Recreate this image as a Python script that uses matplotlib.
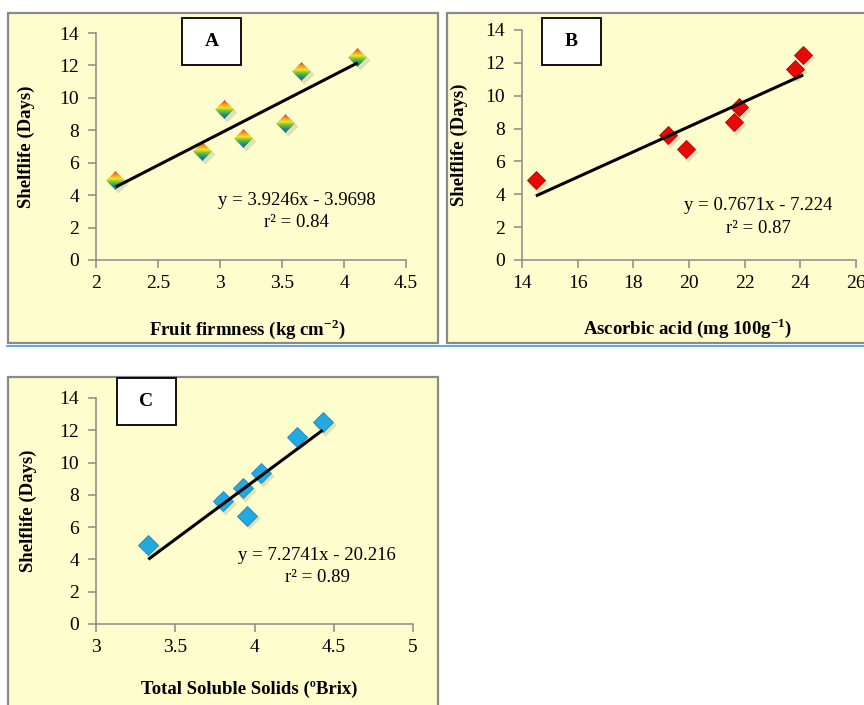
import numpy as np
import matplotlib
matplotlib.use("Agg")
import matplotlib.pyplot as plt
from matplotlib.patches import Rectangle
from matplotlib.lines import Line2D
from matplotlib.offsetbox import OffsetImage, AnnotationBbox
from matplotlib.transforms import offset_copy

plt.rcParams['font.family'] = ['Liberation Serif', 'DejaVu Serif']
plt.rcParams['mathtext.fontset'] = 'custom'
plt.rcParams['mathtext.rm'] = 'Liberation Serif'
plt.rcParams['mathtext.bf'] = 'Liberation Serif:bold'

# Panel A: fruit firmness vs shelf life
firmness = [2.16, 2.86, 3.04, 3.19, 3.53, 3.66, 4.11]
shelf_a = [4.9, 6.7, 9.3, 7.5, 8.4, 11.6, 12.5]
slope_a, icpt_a = 3.9246, -3.9698

# Panel B: ascorbic acid vs shelf life
ascorbic = [14.5, 19.25, 19.9, 21.6, 21.8, 23.8, 24.1]
shelf_b = [4.85, 7.6, 6.75, 8.4, 9.3, 11.6, 12.5]
slope_b, icpt_b = 0.7671, -7.224

# Panel C: TSS vs shelf life
tss = [3.33, 3.80, 3.93, 3.95, 4.04, 4.27, 4.43]
shelf_c = [4.9, 7.6, 8.4, 6.7, 9.35, 11.6, 12.5]
slope_c, icpt_c = 7.2741, -20.216

bg = '#FEFDCD'
grey = '#8a8a8a'

fig = plt.figure(figsize=(8.64, 7.05), dpi=100)
W, H = 864, 705


def px_rect(x0, y0, x1, y1):
    return (x0 / W, 1 - y1 / H, (x1 - x0) / W, (y1 - y0) / H)


# panel backgrounds
for (x0, y0, x1, y1) in [(8, 13, 438, 343), (447, 13, 875, 343), (8, 377, 438, 715)]:
    l, b, w, h = px_rect(x0, y0, x1, y1)
    fig.patches.append(Rectangle((l, b), w, h, transform=fig.transFigure,
                                 facecolor=bg, edgecolor=grey, lw=1.6, zorder=-2))

# blue separator line
fig.lines.append(Line2D([0.008, 1.0], [1 - 346 / H] * 2, transform=fig.transFigure,
                        color='#4a94dc', lw=1.2, zorder=-2))


def rainbow_diamond(n=19):
    yy, xx = np.mgrid[0:n, 0:n]
    c = (n - 1) / 2
    d = np.abs(xx - c) + np.abs(yy - c)
    alpha = np.clip(c + 0.8 - d, 0, 1)
    stops = np.array([[232, 60, 40], [248, 150, 30], [242, 228, 30],
                      [100, 190, 60], [30, 140, 130], [40, 100, 130]]) / 255
    pos = np.linspace(0, 1, len(stops))
    t = yy / (n - 1)
    img = np.zeros((n, n, 4))
    for k in range(3):
        img[..., k] = np.interp(t, pos, stops[:, k])
    img[..., 3] = alpha
    return img


def setup(ax, xlim, xticks, xlabel, xlab_xy, ylab_x):
    ax.set_zorder(1)
    ax.set_facecolor('none')
    ax.set_xlim(*xlim)
    ax.set_ylim(0, 14)
    ax.set_xticks(xticks)
    ax.set_yticks(range(0, 15, 2))
    ax.set_xticklabels([f'{v:g}' for v in xticks])
    for s in ['top', 'right']:
        ax.spines[s].set_visible(False)
    for s in ['left', 'bottom']:
        ax.spines[s].set_color(grey)
        ax.spines[s].set_linewidth(1.1)
    ax.tick_params(direction='out', length=6, width=1.1, color=grey,
                   labelsize=14, pad=5)
    ax.tick_params(axis='y', pad=6)
    ax.set_xlabel(xlabel, fontsize=13.5, fontweight='bold')
    ax.xaxis.set_label_coords(*xlab_xy)
    ax.set_ylabel('Shelflife (Days)', fontsize=13.5, fontweight='bold')
    ax.yaxis.set_label_coords(ylab_x, 0.5)


def shadow(ax, x, y, ms):
    tr = offset_copy(ax.transData, fig=fig, x=2, y=-2.5, units='dots')
    ax.plot(x, y, 'D', ms=ms + 1, color='#a09f80', alpha=0.3, mec='none',
            transform=tr, zorder=2, ls='none')


def trend(ax, x, slope, icpt):
    xs = np.array([min(x), max(x)])
    ax.plot(xs, slope * xs + icpt, color='black', lw=2.2, zorder=4,
            solid_capstyle='butt')


def tag(letter, x0, y0, x1, y1):
    l, b, w, h = px_rect(x0, y0, x1, y1)
    fig.patches.append(Rectangle((l, b), w, h, transform=fig.transFigure,
                                 facecolor='white', edgecolor='black', lw=1.3, zorder=5))
    fig.text(l + w / 2, b + h / 2, letter, ha='center', va='center',
             fontsize=14, fontweight='bold', zorder=6)


def eqn(ax, txt, r2, xy, dy):
    ax.text(xy[0], xy[1], txt, transform=ax.transAxes, ha='center', va='center',
            fontsize=13.5)
    ax.text(xy[0], xy[1] - dy, r2, transform=ax.transAxes, ha='center', va='center',
            fontsize=13.5)


# ---- A
ax1 = fig.add_axes(px_rect(96, 33, 406, 260))
setup(ax1, (2, 4.5), [2, 2.5, 3, 3.5, 4, 4.5],
      r'Fruit firmness (kg cm$^{\mathbf{-2}}$)', (0.487, -0.25), -0.197)
shadow(ax1, firmness, shelf_a, 9.2)
trend(ax1, firmness, slope_a, icpt_a)
img = rainbow_diamond()
for xv, yv in zip(firmness, shelf_a):
    ab = AnnotationBbox(OffsetImage(img, zoom=1, dpi_cor=False), (xv, yv),
                        xycoords='data', frameon=False, pad=0, zorder=3)
    ax1.add_artist(ab)
eqn(ax1, 'y = 3.9246x - 3.9698', 'r² = 0.84', (0.648, 0.264), 0.097)

# ---- B
ax2 = fig.add_axes(px_rect(522, 30, 856, 260))
setup(ax2, (14, 26), list(range(14, 27, 2)),
      r'Ascorbic acid (mg 100g$^{\mathbf{-1}}$)', (0.497, -0.243), -0.162)
shadow(ax2, ascorbic, shelf_b, 9.6)
ax2.plot(ascorbic, shelf_b, 'D', ms=9.6, color='#e80808', mec='#b00000',
         mew=0.6, zorder=3, ls='none')
trend(ax2, ascorbic, slope_b, icpt_b)
eqn(ax2, 'y = 0.7671x - 7.224', 'r² = 0.87', (0.707, 0.235), 0.096)

# ---- C
ax3 = fig.add_axes(px_rect(96, 398, 413, 624))
setup(ax3, (3, 5), [3, 3.5, 4, 4.5, 5],
      'Total Soluble Solids (ºBrix)', (0.485, -0.252), -0.186)
shadow(ax3, tss, shelf_c, 10.2)
ax3.plot(tss, shelf_c, 'D', ms=10.2, color='#23a8e0', mec='#1a88c0',
         mew=0.6, zorder=3, ls='none')
trend(ax3, tss, slope_c, icpt_c)
eqn(ax3, 'y = 7.2741x - 20.216', 'r² = 0.89', (0.697, 0.301), 0.097)

tag('A', 182, 18, 241, 65)
tag('B', 542, 18, 601, 65)
tag('C', 117, 378, 176, 425)

fig.savefig('out.png', dpi=100)
